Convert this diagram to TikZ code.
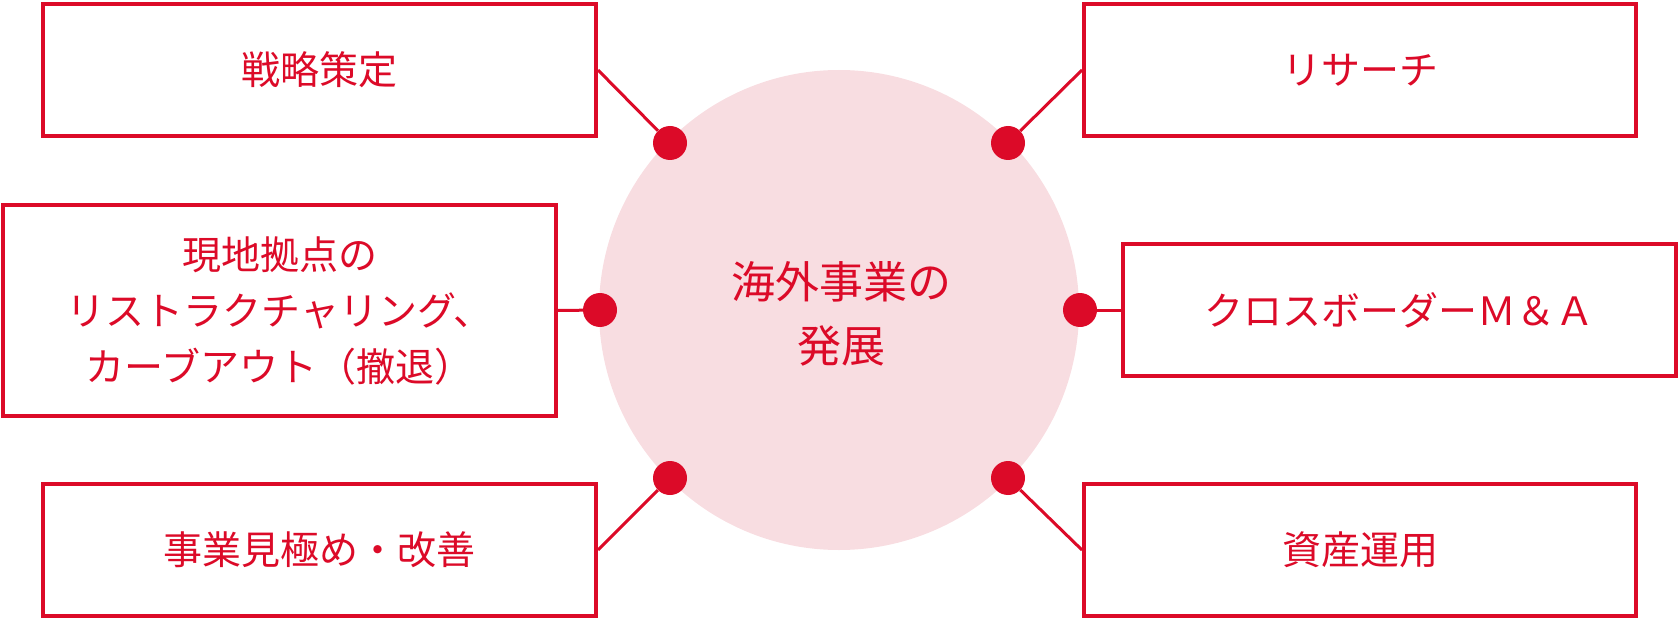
\documentclass[tikz,border=0pt]{standalone}
\usepackage{fontspec}
\setmainfont{Noto Sans CJK JP}
\definecolor{myred}{HTML}{DC0A28}
\definecolor{mypink}{HTML}{F8DDE1}
\tikzset{
  box/.style={draw=myred, line width=4pt, fill=white, text=myred, align=center,
    minimum width=553pt, minimum height=132pt, inner sep=0pt,
    font=\fontsize{39}{56}\selectfont},
  dotnode/.style={circle, fill=myred, minimum size=34pt, inner sep=0pt},
  link/.style={draw=myred, line width=3pt},
}
\begin{document}
\begin{tikzpicture}[x=1pt,y=-1pt]
\useasboundingbox (0,0) rectangle (1680,620);
\node[circle, fill=mypink, minimum size=480pt, inner sep=0pt] (hub) at (839,310) {};
\node[text=myred, align=center, font=\fontsize{44}{64}\selectfont] (hubtext) at (841,314) {海外事業の\\発展};

\node[box] (b1) at (319.5,70) {戦略策定};
\node[box, minimum height=211pt] (b2) at (279.5,310.5) {現地拠点の\\リストラクチャリング、\\カーブアウト（撤退）};
\node[box] (b3) at (319.5,550) {事業見極め・改善};
\node[box, minimum width=552pt] (b4) at (1360,70) {リサーチ};
\node[box] (b5) at (1399.5,310) {クロスボーダーＭ＆Ａ};
\node[box, minimum width=552pt] (b6) at (1360,550) {資産運用};

\node[dotnode] (d1) at (670,143) {};
\node[dotnode] (d2) at (600,310) {};
\node[dotnode] (d3) at (670,478) {};
\node[dotnode] (d4) at (1008,143) {};
\node[dotnode] (d5) at (1080,310) {};
\node[dotnode] (d6) at (1008,478) {};

\draw[link] (b1.east) -- (d1);
\draw[link] (b2.east) -- (d2);
\draw[link] (b3.east) -- (d3);
\draw[link] (b4.west) -- (d4);
\draw[link] (b5.west) -- (d5);
\draw[link] (b6.west) -- (d6);
\end{tikzpicture}
\end{document}
